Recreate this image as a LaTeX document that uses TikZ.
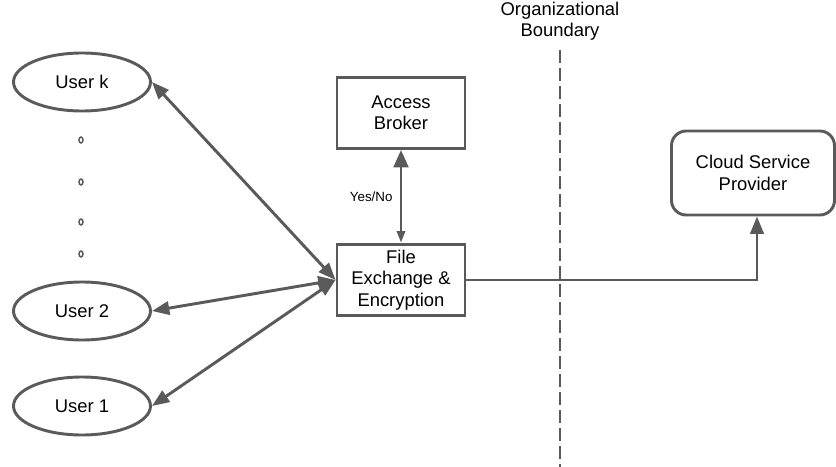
\documentclass[tikz,border=0pt]{standalone}
\usepackage{fontspec}
\setmainfont{Liberation Sans}
\usetikzlibrary{arrows.meta,shapes.geometric}
\definecolor{linegray}{HTML}{5A5A5A}
\tikzset{
  wire/.style={draw=linegray, line width=2.2pt},
  user/.style={wire, ellipse, minimum width=102.75pt, minimum height=43.5pt},
  dotmark/.style={draw=linegray, line width=1.1pt, ellipse, inner sep=0pt, minimum width=3pt, minimum height=4.5pt},
  box/.style={wire, rectangle, minimum width=96pt, minimum height=53.25pt},
  cloudbox/.style={wire, rectangle, rounded corners=11pt, minimum width=122.25pt, minimum height=63pt},
  link/.style={wire, {Triangle[length=13pt,width=10pt]}-{Triangle[length=13pt,width=10pt]}}
}
\begin{document}
\begin{tikzpicture}[x=0.75pt, y=-0.75pt,
    every node/.style={font=\fontsize{13.8}{16}\selectfont, align=center}]
            \useasboundingbox (0,0) rectangle (836,467);
            \node[user](1) at (82, 82) {User k};
            \node[user](2) at (82, 311) {User 2};
            \node[user](3) at (82, 406) {User 1};
            \node[dotmark](d1) at (81, 140) {};
            \node[dotmark](d2) at (81, 182) {};
            \node[dotmark](d3) at (81, 222) {};
            \node[dotmark](d4) at (81, 254) {};
            \node[box](4) at (401, 113) {Access\\Broker};
            \node[box](5) at (401, 280) {File\\Exchange \&\\Encryption};
            \node[cloudbox](6) at (753, 173) {Cloud Service\\Provider};
            \path[link] (1.east) -- (5.west);
            \path[link] (2.east) -- (5.west);
            \path[link] (3.east) -- (5.west);
            \path[wire, {Triangle[length=9pt,width=6pt]}-{Triangle[length=13pt,width=11pt]}] (5.north) -- node[left, font=\fontsize{10}{12}\selectfont, xshift=-2pt] {Yes/No} (4.south);
            \path[wire, -{Triangle[length=13pt,width=10pt]}] (5.east) -| ([xshift=3pt]6.south);
            \coordinate(7) at (560, 50);
            \coordinate(8) at (560, 467);
            \path[wire, dash pattern=on 9.75pt off 3.75pt] (7) -- (8);
            \node(9) at (560, 21) {Organizational\\Boundary};
        \end{tikzpicture}
\end{document}
